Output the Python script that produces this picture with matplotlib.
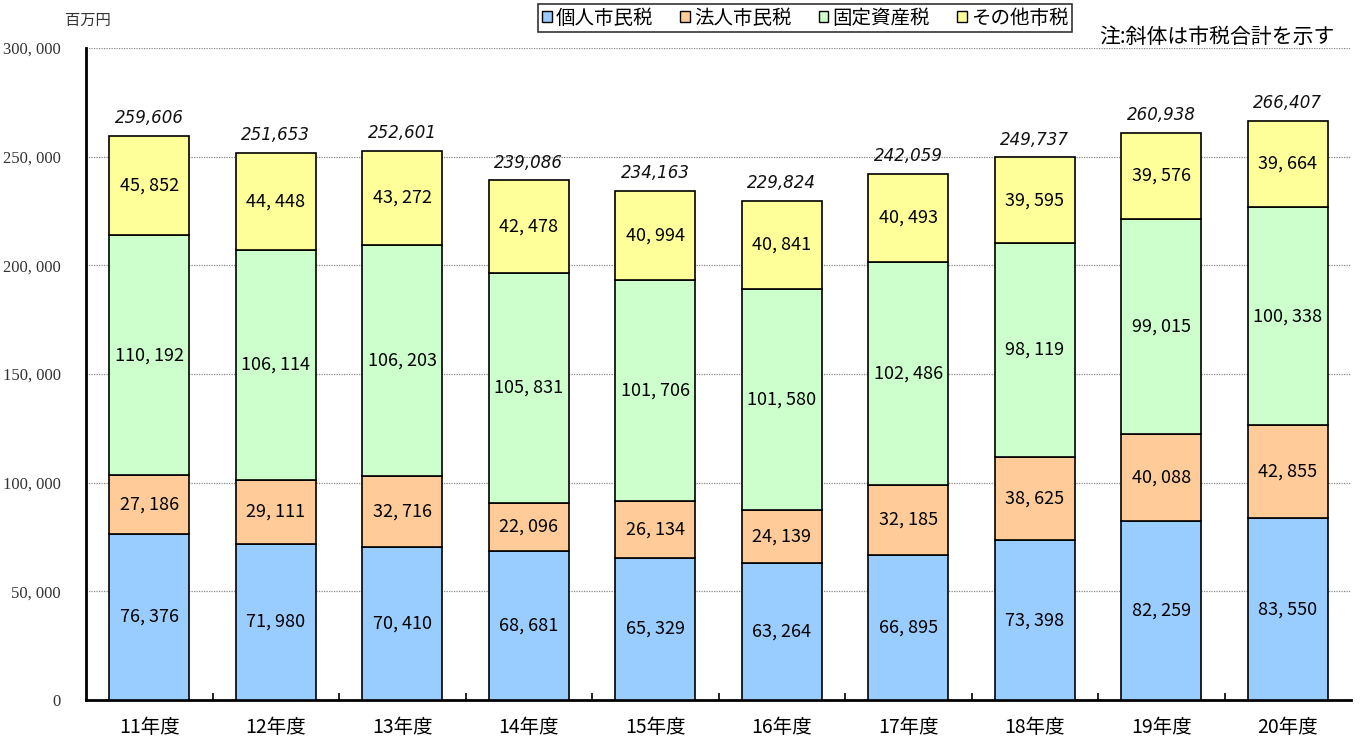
import matplotlib
matplotlib.use("Agg")
import matplotlib.pyplot as plt
from matplotlib.patches import Patch
import numpy as np

categories = ["11年度", "12年度", "13年度", "14年度", "15年度", "16年度", "17年度", "18年度", "19年度", "20年度"]
kojin = [76376, 71980, 70410, 68681, 65329, 63264, 66895, 73398, 82259, 83550]
hojin = [27186, 29111, 32716, 22096, 26134, 24139, 32185, 38625, 40088, 42855]
kotei = [110192, 106114, 106203, 105831, 101706, 101580, 102486, 98119, 99015, 100338]
sonota = [45852, 44448, 43272, 42478, 40994, 40841, 40493, 39595, 39576, 39664]
totals = [259606, 251653, 252601, 239086, 234163, 229824, 242059, 249737, 260938, 266407]
series_names = ["個人市民税", "法人市民税", "固定資産税", "その他市税"]
colors = ["#99CCFF", "#FFCC99", "#CCFFCC", "#FFFF99"]

plt.rcParams['font.family'] = ['Noto Sans CJK JP', 'DejaVu Sans']

fig = plt.figure(figsize=(13.62, 7.4), dpi=100)
ax = fig.add_axes([86/1362, 1-700/740, 1265/1362, 652/740])

x = np.arange(len(categories))
w = 0.63
bottom = np.zeros(len(categories))
for vals, col in zip([kojin, hojin, kotei, sonota], colors):
    vals = np.array(vals)
    ax.bar(x, vals, w, bottom=bottom, color=col, edgecolor="black", linewidth=1.2, zorder=3)
    for xi, b, v in zip(x, bottom, vals):
        ax.text(xi, b + v/2, f"{v:,}".replace(",", ", "), ha="center", va="center",
                fontsize=13, zorder=4)
    bottom = bottom + vals

for xi, t in zip(x, totals):
    ax.text(xi, t + 4000, f"{t:,}", ha="center", va="bottom", fontsize=12,
            style="italic", family=["DejaVu Sans"], color="#111111", zorder=4)

ax.set_xlim(-0.5, len(categories) - 0.5)
ax.set_ylim(0, 300000)
yt = np.arange(0, 300001, 50000)
ax.set_yticks(yt)
ax.set_yticklabels([f"{v:,}".replace(",", ", ") for v in yt], family=["Liberation Serif"], fontsize=12, color="#333333")
ax.tick_params(axis="y", length=0, pad=18)
ax.set_xticks(x)
ax.set_xticklabels(categories, fontsize=14)
ax.tick_params(axis="x", length=0, pad=12)
ax.set_xticks(np.arange(0.5, len(categories) - 0.5, 1), minor=True)
ax.tick_params(axis="x", which="minor", direction="in", length=5, width=1.2)

ax.yaxis.grid(True, linestyle=(0, (1, 1)), color="#888888", linewidth=0.9, zorder=0)
ax.set_axisbelow(True)
for s in ["top", "right"]:
    ax.spines[s].set_visible(False)
ax.spines["left"].set_linewidth(2)
ax.spines["bottom"].set_linewidth(2)

fig.text(65/1362, 1-20/740, "百万円", fontsize=11, va="center", ha="left", color="#333333")
fig.text(1335/1362, 1-37/740, "注:斜体は市税合計を示す", fontsize=15, va="center", ha="right")

handles = [Patch(facecolor=c, edgecolor="black", label=n) for c, n in zip(colors, series_names)]
leg = fig.legend(handles=handles, loc="center", bbox_to_anchor=(805/1362, 1-18/740), ncol=4,
                 frameon=True, fontsize=14, handlelength=0.5, handleheight=0.5, handletextpad=0.2,
                 columnspacing=1.4, borderpad=0.2, borderaxespad=0, fancybox=False, edgecolor="black")
leg.get_frame().set_linewidth(1.2)

fig.savefig("out.png", dpi=100)
